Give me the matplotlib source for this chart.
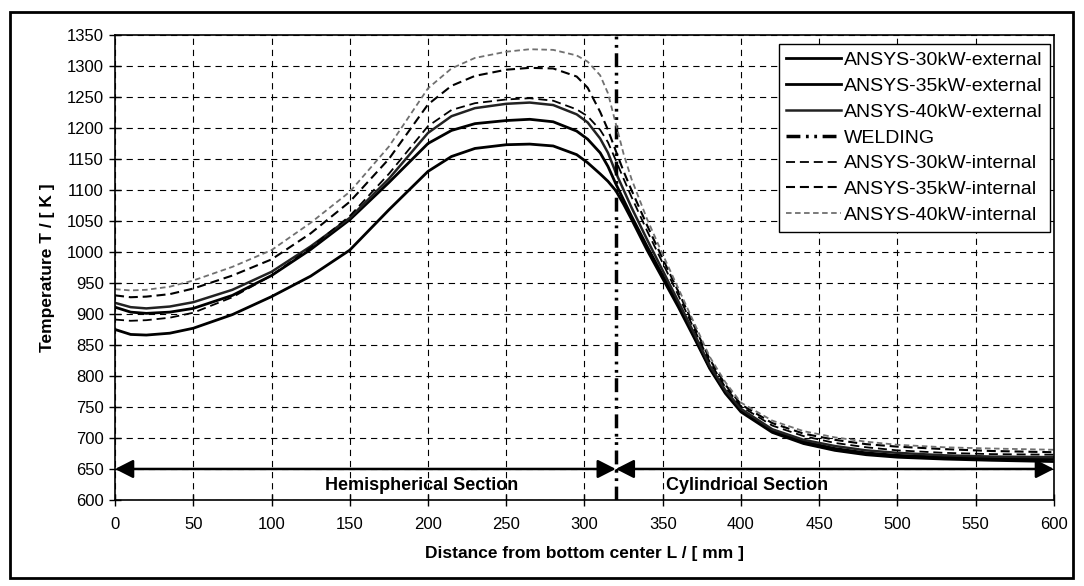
import matplotlib
matplotlib.use("Agg")
import matplotlib.pyplot as plt
from matplotlib.patches import Rectangle

plt.rcParams['font.family'] = ['Liberation Sans', 'DejaVu Sans']
plt.rcParams['lines.scale_dashes'] = False

# distance from bottom center [mm]
dist = [0, 10, 20, 35, 50, 75, 100, 125, 150, 175, 200, 215, 230, 250, 265,
        280, 295, 302, 310, 315, 320, 325, 330, 340, 350, 360, 370, 380, 390,
        400, 420, 440, 460, 480, 500, 530, 560, 600]

ext_30 = [875, 867, 866, 869, 877, 899, 928, 961, 1003, 1068, 1130, 1154, 1167, 1173, 1174,
          1171, 1157, 1144, 1126, 1114, 1099, 1077, 1053, 1003, 957, 911, 862, 812, 772,
          742, 709, 691, 680, 673, 669, 666, 664, 662]
ext_35 = [911, 903, 901, 903, 909, 930, 962, 1004, 1052, 1112, 1175, 1196, 1207, 1212, 1214,
          1210, 1195, 1182, 1160, 1138, 1110, 1084, 1058, 1009, 962, 915, 865, 814, 774,
          744, 711, 694, 683, 676, 672, 669, 667, 666]
ext_40 = [918, 911, 909, 912, 919, 939, 968, 1009, 1055, 1118, 1192, 1219, 1232, 1239, 1241,
          1237, 1222, 1209, 1183, 1160, 1128, 1100, 1072, 1020, 970, 920, 869, 817, 777,
          747, 714, 697, 687, 680, 676, 672, 670, 669]
int_30 = [891, 889, 890, 894, 902, 927, 962, 1007, 1058, 1126, 1203, 1229, 1240, 1246, 1248,
          1244, 1230, 1219, 1197, 1177, 1148, 1118, 1089, 1034, 982, 930, 876, 823, 782,
          751, 720, 703, 692, 685, 680, 676, 674, 673]
int_35 = [930, 927, 928, 932, 941, 962, 988, 1030, 1081, 1150, 1238, 1268, 1284, 1294, 1297,
          1296, 1283, 1265, 1226, 1197, 1163, 1130, 1100, 1043, 989, 936, 881, 827, 786,
          754, 724, 707, 697, 690, 686, 682, 679, 677]
int_40 = [940, 938, 939, 944, 954, 976, 1003, 1047, 1097, 1170, 1264, 1296, 1313, 1323, 1327,
          1326, 1317, 1307, 1285, 1256, 1207, 1158, 1118, 1053, 996, 941, 886, 831, 790,
          757, 728, 711, 701, 694, 689, 685, 683, 681]

weld_pos = 320
section_bounds = [0, 320, 600]
arrow_level = 650
section_names = ['Hemispherical Section', 'Cylindrical Section']
section_text_x = [196, 404]
section_text_y = 623

x_ticks = list(range(0, 601, 50))
y_ticks = list(range(600, 1351, 50))

fig = plt.figure(figsize=(10.84, 5.86), dpi=100)
ax = fig.add_axes([0.1061, 0.1468, 0.8662, 0.7935])

ax.plot(dist, ext_30, color='k', lw=2.0, label='ANSYS-30kW-external')
ax.plot(dist, ext_35, color='k', lw=2.0, label='ANSYS-35kW-external')
ax.plot(dist, ext_40, color='#222222', lw=1.8, label='ANSYS-40kW-external')
ax.axvline(weld_pos, color='k', lw=2.5, linestyle=(0, (10, 4, 2, 4, 2, 4)), label='WELDING')
ax.plot(dist, int_30, color='k', lw=1.3, linestyle=(0, (6.5, 3.5)), label='ANSYS-30kW-internal')
ax.plot(dist, int_35, color='k', lw=1.5, linestyle=(0, (6.5, 3.5)), label='ANSYS-35kW-internal')
ax.plot(dist, int_40, color='#707070', lw=1.3, linestyle=(0, (4, 2.5)), label='ANSYS-40kW-internal')

# section arrows
for a, b in zip(section_bounds[:-1], section_bounds[1:]):
    ax.annotate('', xy=(a, arrow_level), xytext=(b, arrow_level),
                arrowprops=dict(arrowstyle='<|-|>,head_length=0.55,head_width=0.28',
                                color='k', lw=1.8, mutation_scale=20,
                                shrinkA=0, shrinkB=0))
for name, tx in zip(section_names, section_text_x):
    ax.text(tx, section_text_y, name, ha='center', va='center',
            fontsize=13, fontweight='bold')

ax.set_xlim(0, 600)
ax.set_ylim(600, 1350)
ax.set_xticks(x_ticks)
ax.set_yticks(y_ticks)
ax.tick_params(direction='inout', length=8, width=1, labelsize=12)
ax.tick_params(axis='x', pad=8)
ax.tick_params(axis='y', pad=4)
ax.grid(True, color='k', lw=0.8, linestyle=(0, (4.5, 3.5)))
for sp in ax.spines.values():
    sp.set_linewidth(1.2)

ax.set_xlabel('Distance from bottom center L / [ mm ]', fontsize=12.5, fontweight='bold')
ax.set_ylabel('Temperature T / [ K ]', fontsize=12.5, fontweight='bold')
ax.xaxis.set_label_coords(0.5, -0.1)
ax.yaxis.set_label_coords(-0.064, 0.5)

leg = ax.legend(loc='upper right', bbox_to_anchor=(0.996, 0.981), borderaxespad=0,
                fontsize=14, fancybox=False, framealpha=1, edgecolor='k',
                handlelength=2.8, handletextpad=0.15, labelspacing=0.42,
                borderpad=0.4)
leg.get_frame().set_linewidth(1.0)

# outer frame around the figure
fig.patches.append(Rectangle((10 / 1084, 1 - 578 / 586), 1063 / 1084, 566 / 586,
                             transform=fig.transFigure, fill=False, lw=2, ec='k'))

fig.savefig('out.png', dpi=100)
